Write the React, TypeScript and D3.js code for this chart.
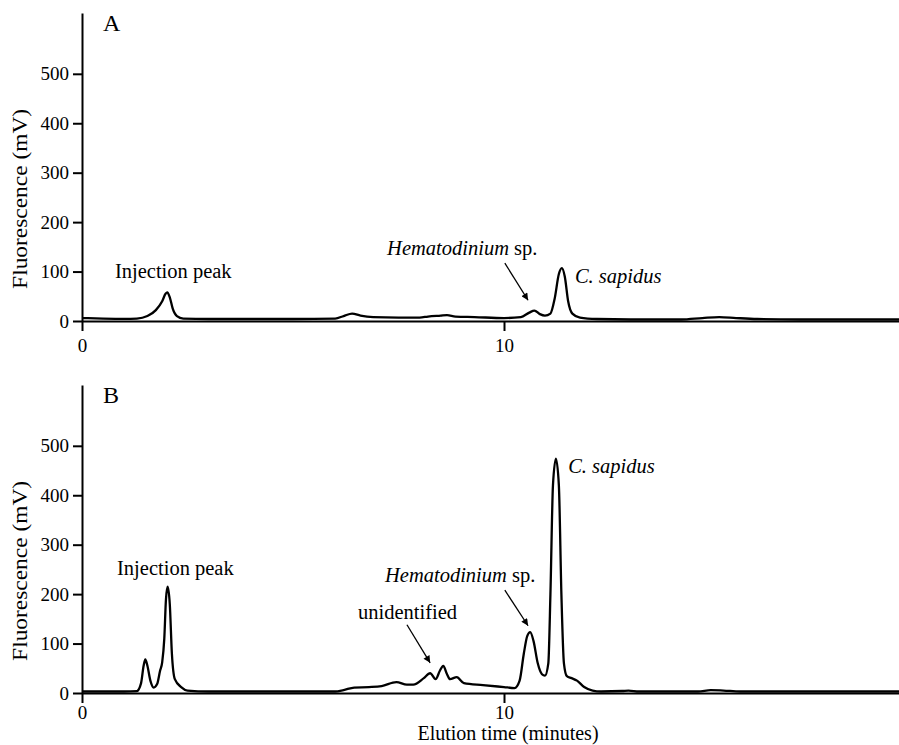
import React, { useEffect, useRef } from 'react';
import * as d3 from 'd3';

// elution time (minutes) / fluorescence (mV)
const timesA = [0, 0.5, 1.0, 1.3, 1.55, 1.75, 1.9, 1.98, 2.02, 2.08, 2.15, 2.25, 2.4, 3, 5, 6.0, 6.2, 6.4, 6.6, 6.9, 7.5, 8.0, 8.2, 8.5, 8.65, 8.85, 9.3, 10.0, 10.4, 10.6, 10.72, 10.85, 10.97, 11.1, 11.2, 11.3, 11.37, 11.44, 11.52, 11.62, 11.8, 12.2, 13, 14.2, 14.7, 15.1, 15.5, 16, 17, 19.4];
const valuesA = [6, 5, 4.5, 5, 10, 22, 40, 55, 58, 48, 25, 10, 5, 4, 4, 5, 10, 15, 11, 8, 7, 7, 9, 11, 12, 9, 8, 6, 8, 17, 21, 14, 11, 15, 45, 95, 107, 90, 40, 15, 7, 4, 3, 3, 6, 8, 6, 4, 3, 3];

const timesB = [0, 1.0, 1.3, 1.4, 1.46, 1.5, 1.55, 1.62, 1.7, 1.78, 1.85, 1.9, 1.95, 1.99, 2.03, 2.08, 2.13, 2.2, 2.35, 2.5, 3, 6.0, 6.2, 6.45, 6.8, 7.1, 7.45, 7.7, 7.85, 8.1, 8.25, 8.38, 8.48, 8.56, 8.65, 8.72, 8.88, 9.05, 9.5, 10.0, 10.25, 10.37, 10.47, 10.55, 10.62, 10.7, 10.8, 10.9, 10.97, 11.05, 11.1, 11.16, 11.23, 11.3, 11.36, 11.42, 11.49, 11.6, 11.73, 11.9, 12.1, 12.3, 12.8, 12.95, 13.2, 14.6, 14.9, 15.2, 15.6, 19.4];
const valuesB = [3, 3, 4, 20, 55, 68, 55, 25, 11, 18, 45, 62, 110, 190, 215, 180, 80, 28, 12, 5, 3, 3, 6, 11, 12, 14, 22, 17, 17, 30, 40, 28, 45, 55, 38, 28, 32, 20, 16, 12, 10, 25, 80, 115, 123, 105, 60, 38, 35, 60, 200, 420, 474, 420, 200, 60, 34, 30, 25, 12, 5, 3, 4, 5, 3, 3, 6, 5, 3, 3];

const yTicks = [0, 100, 200, 300, 400, 500];
const xTicks = [0, 10];

// labels: plain text, italic part, anchor in time / mV
const labelsA = [
  { text: 'Injection peak', italic: '', t: 0.78, v: 87 },
  { text: ' sp.', italic: 'Hematodinium', t: 7.23, v: 134 },
  { text: '', italic: 'C. sapidus', t: 11.68, v: 77 },
];
const labelsB = [
  { text: 'Injection peak', italic: '', t: 0.83, v: 239 },
  { text: ' sp.', italic: 'Hematodinium', t: 7.18, v: 225 },
  { text: 'unidentified', italic: '', t: 6.54, v: 150 },
  { text: '', italic: 'C. sapidus', t: 11.52, v: 445 },
];
const arrowsA = [{ t0: 10.02, v0: 117, t1: 10.57, v1: 42 }];
const arrowsB = [
  { t0: 10.02, v0: 208, t1: 10.57, v1: 136 },
  { t0: 7.7, v0: 138, t1: 8.25, v1: 61 },
];

const panels = [
  { letter: 'A', times: timesA, values: valuesA, labels: labelsA, arrows: arrowsA, top: 13, zero: 321, pad: 8 },
  { letter: 'B', times: timesB, values: valuesB, labels: labelsB, arrows: arrowsB, top: 385, zero: 693, pad: 3 },
];

const FONT = '"Liberation Serif", "Times New Roman", serif';

const App = () => {
  const svgRef = useRef(null);

  useEffect(() => {
    const svg = d3.select(svgRef.current);
    svg.selectAll('*').remove();

    svg
      .append('defs')
      .append('marker')
      .attr('id', 'head')
      .attr('markerUnits', 'userSpaceOnUse')
      .attr('viewBox', '0 0 10 10')
      .attr('refX', 10)
      .attr('refY', 5)
      .attr('markerWidth', 9)
      .attr('markerHeight', 7)
      .attr('orient', 'auto')
      .append('path')
      .attr('d', 'M0,0L10,5L0,10Z')
      .attr('fill', '#000');

    const x = d3.scaleLinear().domain([0, 19.36]).range([82, 899]);

    panels.forEach((p) => {
      const y = d3.scaleLinear().domain([0, 623]).range([p.zero, p.top]);
      const g = svg.append('g');

      // Y axis
      const ya = g
        .append('g')
        .attr('transform', `translate(${x(0)},0)`)
        .call(d3.axisLeft(y).tickValues(yTicks).tickSize(9).tickSizeOuter(0).tickPadding(4));
      ya.select('.domain').attr('stroke-width', 2);
      ya.selectAll('.tick line').attr('stroke-width', 2);
      ya.selectAll('text').attr('font-family', FONT).attr('font-size', 19).attr('fill', '#000');

      // X axis
      const xa = g
        .append('g')
        .attr('transform', `translate(0,${y(0)})`)
        .call(d3.axisBottom(x).tickValues(xTicks).tickSize(10).tickSizeOuter(0).tickPadding(p.pad));
      xa.select('.domain').attr('stroke-width', 2);
      xa.selectAll('.tick line').attr('stroke-width', 2);
      xa.selectAll('text').attr('font-family', FONT).attr('font-size', 19).attr('fill', '#000');

      // trace
      const pts = p.times.map((t, i) => [t, p.values[i]]);
      g.append('path')
        .datum(pts)
        .attr('fill', 'none')
        .attr('stroke', '#000')
        .attr('stroke-width', 2.3)
        .attr('stroke-linejoin', 'round')
        .attr(
          'd',
          d3
            .line()
            .x((d) => x(d[0]))
            .y((d) => y(d[1]))
            .curve(d3.curveMonotoneX)
        );

      // y title, centred near the 250 mV level
      g.append('text')
        .attr('transform', `translate(27,${y(247)}) rotate(-90)`)
        .attr('text-anchor', 'middle')
        .attr('font-family', FONT)
        .attr('font-size', 21)
        .attr('textLength', 180)
        .attr('lengthAdjust', 'spacingAndGlyphs')
        .text('Fluorescence (mV)');

      // panel letter
      g.append('text')
        .attr('x', x(0.5))
        .attr('y', y(587))
        .attr('font-family', FONT)
        .attr('font-size', 24)
        .text(p.letter);

      p.labels.forEach((l) => {
        const t = g
          .append('text')
          .attr('x', x(l.t))
          .attr('y', y(l.v))
          .attr('font-family', FONT)
          .attr('font-size', 20.5);
        if (l.italic) t.append('tspan').attr('font-style', 'italic').text(l.italic);
        if (l.text) t.append('tspan').text(l.text);
      });

      p.arrows.forEach((a) => {
        g.append('line')
          .attr('x1', x(a.t0))
          .attr('y1', y(a.v0))
          .attr('x2', x(a.t1))
          .attr('y2', y(a.v1))
          .attr('stroke', '#000')
          .attr('stroke-width', 1.3)
          .attr('marker-end', 'url(#head)');
      });
    });

    svg
      .append('text')
      .attr('x', 508)
      .attr('y', 740)
      .attr('text-anchor', 'middle')
      .attr('font-family', FONT)
      .attr('font-size', 20)
      .text('Elution time (minutes)');
  }, []);

  return (
    <svg
      ref={svgRef}
      width={899}
      height={745}
      style={{ position: 'absolute', left: 0, top: 0, background: 'white' }}
    ></svg>
  );
};

export default App;
